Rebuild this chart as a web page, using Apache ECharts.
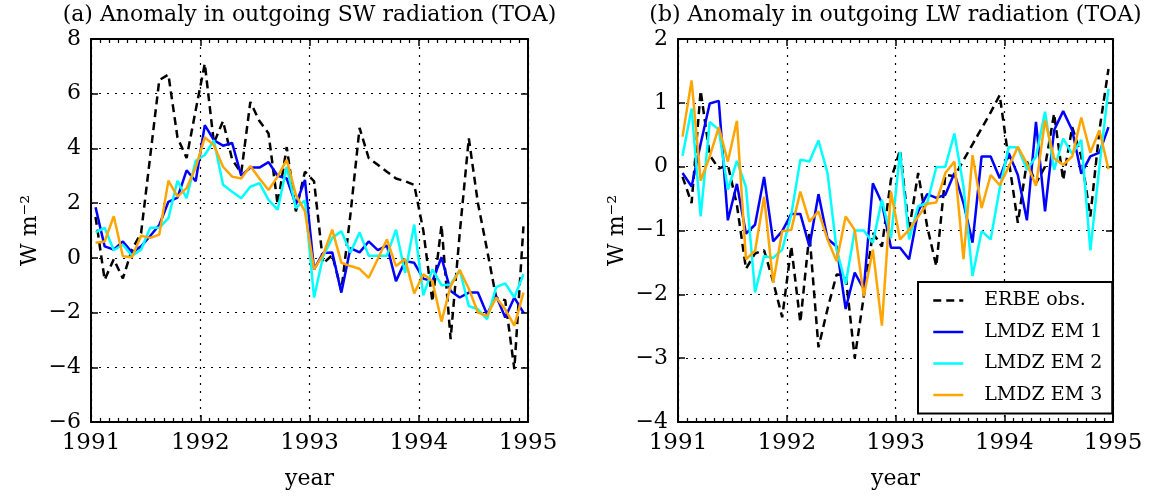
<!DOCTYPE html>
<html>
<head>
<meta charset="utf-8">
<script src="https://cdn.jsdelivr.net/npm/echarts@6/dist/echarts.min.js"></script>
<style>
html,body{margin:0;padding:0;background:#fff;}
#chart{width:1159px;height:496px;}
</style>
</head>
<body>
<div id="chart"></div>
<script>
// ---- data (monthly anomalies, Jan 1991 .. Dec 1994) ----
const YEAR0 = 1991;
const seriesNames = ['ERBE obs.', 'LMDZ EM 1', 'LMDZ EM 2', 'LMDZ EM 3'];
const xTicks = [1991, 1992, 1993, 1994, 1995];
const yTicksSW = [-6, -4, -2, 0, 2, 4, 6, 8];
const yTicksLW = [-4, -3, -2, -1, 0, 1, 2];

// (a) outgoing SW
const erbeSW = [1.5, -0.8, -0.05, -0.75, 0.3, 0.9, 3.7, 6.5, 6.7, 4.4, 3.65, 5.4,
  7.1, 4.2, 5.0, 3.6, 3.1, 5.7, 5.0, 4.55, 1.95, 4.05, 1.7, 3.15,
  2.8, -0.2, 0.1, -1.2, 1.6, 4.75, 3.65, 3.4, 3.15, 2.9, 2.8, 2.67,
  1.0, -1.6, 1.2, -2.97, 0.9, 4.37, 2.0, 0.3, -1.45, -1.55, -4.07, 1.15];
const em1SW = [1.85, 0.42, 0.3, 0.6, 0.2, 0.42, 0.8, 1.2, 2.05, 2.2, 3.2, 2.8,
  4.85, 4.3, 4.1, 4.2, 3.0, 3.3, 3.3, 3.5, 3.0, 2.9, 1.95, 2.85,
  -0.42, 0.18, 0.2, -1.27, 0.36, 0.2, 0.6, 0.28, 0.45, -0.85, -0.12, -0.18,
  -0.76, -0.85, 0.02, -1.21, -1.45, -1.27, -1.27, -2.06, -1.39, -2.18, -1.45, -2.0];
const em2SW = [0.93, 1.1, 0.28, 0.48, 0.08, 0.3, 1.1, 1.1, 1.45, 2.82, 2.18, 3.55,
  3.76, 4.3, 2.67, 2.42, 2.18, 2.6, 2.73, 2.12, 1.76, 3.33, 1.82, 2.1,
  -1.45, 0.06, 0.73, 0.97, 0.2, 0.93, 0.08, 0.08, 0.08, 1.03, -0.55, 1.21,
  -1.37, -0.42, -1.0, -0.97, -0.45, -1.76, -1.88, -2.24, -1.07, -0.93, -1.45, -0.6];
const em3SW = [0.55, 0.6, 1.52, 0.06, 0.02, 0.81, 0.73, 0.85, 2.82, 2.24, 2.55, 3.3,
  4.4, 4.12, 3.33, 2.97, 2.9, 3.36, 2.9, 2.48, 2.97, 3.58, 2.3, 1.7,
  -0.42, 0.12, 1.03, -0.18, -0.3, -0.4, -0.73, -0.04, 0.67, -0.3, -0.04, -1.3,
  -0.6, -0.85, -2.33, -1.03, -0.45, -1.13, -2.0, -2.12, -1.45, -1.88, -2.48, -1.27];

// (b) outgoing LW
const erbeLW = [-0.16, -0.57, 1.19, 0.18, -0.03, 0.03, -0.6, -1.6, -1.36, -1.31, -1.8, -2.36,
  -1.25, -2.44, -1.05, -2.83, -2.23, -1.69, -1.7, -3.0, -2.03, -1.04, -1.25, -0.2,
  0.26, -0.99, -0.1, -0.94, -1.56, -0.13, -0.15, 0.1, 0.35, 0.6, 0.85, 1.12,
  0.1, -0.88, 0.08, -0.26, 0.0, 0.83, -0.21, 0.62, 0.16, -0.78, 0.57, 1.53];
const em1LW = [-0.1, -0.31, 0.36, 0.99, 1.03, -0.84, -0.27, -1.05, -0.91, -0.16, -1.17, -1.01,
  -0.74, -0.74, -1.25, -0.43, -1.13, -1.25, -2.23, -1.66, -1.92, -0.26, -0.57, -1.27,
  -1.27, -1.45, -0.7, -0.43, -0.49, -0.44, -0.1, -0.57, -1.19, 0.16, 0.16, -0.18,
  0.21, -0.13, -0.84, 0.7, -0.7, 0.57, 0.87, 0.57, -0.11, 0.16, 0.22, 0.62];
const em2LW = [0.17, 0.91, -0.78, 0.7, 0.58, -0.36, 0.09, -0.32, -1.97, -1.4, -1.43, -1.3,
  -0.75, 0.11, 0.08, 0.41, -0.1, -1.3, -1.84, -1.0, -1.0, -1.19, -0.52, -1.12,
  0.23, -1.14, -0.62, -0.57, -0.01, 0.0, 0.52, -0.31, -1.71, -1.01, -1.14, -0.34,
  0.31, 0.3, -0.05, 0.16, 0.86, -0.05, 0.44, 0.2, 0.42, -1.31, 0.0, 1.22];
const em3LW = [0.47, 1.35, -0.22, 0.16, 0.62, 0.08, 0.72, -1.45, -1.32, -0.47, -1.82, -1.01,
  -0.99, -0.39, -0.86, -0.7, -1.14, -1.48, -0.78, -0.99, -2.03, -1.3, -2.49, -0.39,
  -1.14, -0.99, -0.78, -0.58, -0.56, -0.1, 0.08, -1.45, 0.18, -0.65, -0.13, -0.29,
  0.0, 0.31, 0.05, -0.3, 0.73, 0.13, 0.03, 0.16, 0.77, 0.22, 0.57, -0.04];

// ---- chart ----
const FONT = '"DejaVu Serif", "Liberation Serif", serif';
const colors = ['#000000', '#0000ff', '#00ffff', '#ffa500'];
const monthX = i => YEAR0 + (i + 0.5) / 12;
const pts = arr => arr.map((v, i) => [monthX(i), v]);
const minusFmt = v => (v < 0 ? '\u2212' + Math.abs(v) : String(v));

const GRIDS = [
  {left: 91, top: 39, width: 437, height: 383},
  {left: 678, top: 39, width: 435, height: 383}
];

function xAxes(gridIndex, bottom) {
  return {
    type: 'value', gridIndex: gridIndex, position: bottom ? 'bottom' : 'top',
    min: xTicks[0], max: xTicks[xTicks.length - 1], interval: 1,
    axisLine: {show: true, onZero: false, lineStyle: {color: '#000', width: 2}},
    axisTick: {show: true, inside: true, length: 7, lineStyle: {color: '#000', width: 1.5}},
    minorTick: {show: true, splitNumber: 12, length: 4, lineStyle: {color: '#000', width: 1.2}},
    axisLabel: {show: bottom, margin: 10, color: '#000', fontFamily: FONT, fontSize: 23,
      formatter: v => String(v)},
    splitLine: {show: bottom, lineStyle: {color: '#000', type: [2, 6], width: 1.2}},
    name: bottom ? 'year' : '', nameLocation: 'middle', nameGap: 46,
    nameTextStyle: {color: '#000', fontFamily: FONT, fontSize: 22}
  };
}
function yAxes(gridIndex, left, ticks) {
  return {
    type: 'value', gridIndex: gridIndex, position: left ? 'left' : 'right',
    min: ticks[0], max: ticks[ticks.length - 1], interval: ticks[1] - ticks[0],
    axisLine: {show: true, onZero: false, lineStyle: {color: '#000', width: 2}},
    axisTick: {show: true, inside: true, length: 7, lineStyle: {color: '#000', width: 1.5}},
    axisLabel: {show: left, margin: 10, color: '#000', fontFamily: FONT, fontSize: 22,
      formatter: minusFmt},
    splitLine: {show: left, lineStyle: {color: '#000', type: [2, 6], width: 1.2}},
    name: left ? 'W m\u207B\u00B2' : '', nameLocation: 'middle', nameGap: 50,
    nameTextStyle: {color: '#000', fontFamily: FONT, fontSize: 22}
  };
}

function makeSeries(dataSets, xi, yi) {
  return dataSets.map((d, k) => ({
    name: seriesNames[k], type: 'line', xAxisIndex: xi, yAxisIndex: yi,
    data: pts(d), symbol: 'none', showSymbol: false, animation: false,
    clip: true, z: 2 + k,
    lineStyle: {color: colors[k], width: 2.5, type: k === 0 ? [8, 5] : 'solid'},
    itemStyle: {color: colors[k]}
  }));
}

const option = {
  backgroundColor: '#fff',
  animation: false,
  grid: GRIDS,
  xAxis: [xAxes(0, true), xAxes(0, false), xAxes(1, true), xAxes(1, false)],
  yAxis: [yAxes(0, true, yTicksSW), yAxes(0, false, yTicksSW), yAxes(1, true, yTicksLW), yAxes(1, false, yTicksLW)],
  legend: {
    data: seriesNames, orient: 'vertical', left: 918, top: 282,
    backgroundColor: '#fff', borderColor: '#000', borderWidth: 2, borderRadius: 0,
    padding: [9, 10, 9, 14], itemGap: 12.5, itemWidth: 30, itemHeight: 20,
    itemStyle: {color: 'rgba(0,0,0,0)', borderWidth: 0, opacity: 0},
    lineStyle: {width: 2.5},
    textStyle: {color: '#000', fontFamily: FONT, fontSize: 19, padding: [0, 0, 0, 16]},
    z: 20
  },
  graphic: [
    {type: 'text', x: GRIDS[0].left + GRIDS[0].width / 2, y: 4,
      style: {text: '(a) Anomaly in outgoing SW radiation (TOA)', textAlign: 'center',
        fill: '#000', font: '22px ' + FONT}},
    {type: 'text', x: GRIDS[1].left + GRIDS[1].width / 2, y: 4,
      style: {text: '(b) Anomaly in outgoing LW radiation (TOA)', textAlign: 'center',
        fill: '#000', font: '22px ' + FONT}}
  ],
  series: [].concat(
    makeSeries([erbeSW, em1SW, em2SW, em3SW], 0, 0),
    makeSeries([erbeLW, em1LW, em2LW, em3LW], 2, 2)
  )
};

const chart = echarts.init(document.getElementById('chart'), null, {renderer: 'canvas'});
chart.setOption(option);
</script>
</body>
</html>
